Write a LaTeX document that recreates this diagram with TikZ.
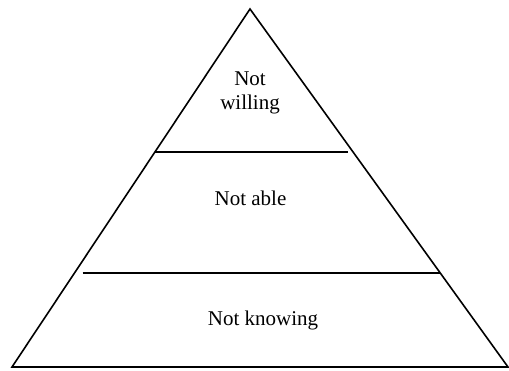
\documentclass[tikz,border=0pt]{standalone}
\usepackage{fontspec}
\setmainfont{Liberation Serif}
\usepackage{tikz}
\usetikzlibrary{positioning, calc}

\begin{document}
\begin{tikzpicture}[
    x=1pt, y=-1pt,
    edge/.style={line width=1.6pt, line join=miter},
    lvl/.style={font=\fontsize{21}{24}\selectfont, anchor=base, inner sep=0pt, align=center}
  ]
  \useasboundingbox (0,0) rectangle (509,371);
  \coordinate (apex) at (250,9);
  \coordinate (bl) at (12,367);
  \coordinate (br) at (508,367);
  % level borders on the sides
  \coordinate (l1) at ($(apex)!0.3994!(bl)$);
  \coordinate (r1) at ($(apex)!0.3994!(br)$);
  \coordinate (l2) at ($(apex)!0.7374!(bl)$);
  \coordinate (r2) at ($(apex)!0.7374!(br)$);
  \draw[edge] (apex) -- (bl) -- (br) -- cycle;
  \draw[edge] (l1) -- ([xshift=-5pt]r1);
  \draw[edge] ([xshift=8pt]l2) -- (r2);
  \node[lvl] (top) at (250,110) {Not\\willing};
  \node[lvl] (mid) at (250.5,206) {Not able};
  \node[lvl] (bot) at (263,326) {Not knowing};
\end{tikzpicture}
\end{document}
